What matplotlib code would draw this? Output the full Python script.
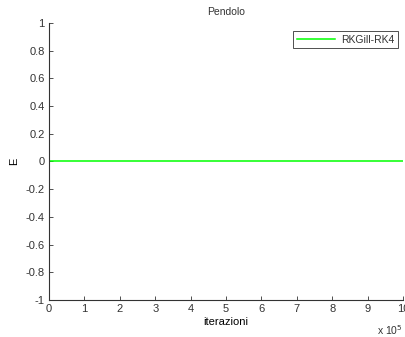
import numpy as np
import matplotlib
matplotlib.use("Agg")
import matplotlib.pyplot as plt

# iterations (in units of 1e5) and energy difference
iterazioni = [0, 2, 4, 6, 8, 10]
E = [0, 0, 0, 0, 0, 0]

plt.rcParams['font.family'] = ['Liberation Sans', 'DejaVu Sans']
plt.rcParams['font.size'] = 8
plt.rcParams['text.color'] = '#333333'

fig = plt.figure(figsize=(4.05, 3.37), dpi=100)
ax = fig.add_axes([0.121, 0.110, 0.874, 0.822])

ax.plot(iterazioni, E, color=(0, 1, 0), lw=1.1, label="RKGill-RK4")

ax.set_xlim(0, 10)
ax.set_ylim(-1, 1)
ax.set_xticks(np.arange(0, 11, 1))
ax.set_yticks(np.round(np.arange(-1, 1.01, 0.2), 1))
ax.set_yticklabels(["-1", "-0.8", "-0.6", "-0.4", "-0.2", "0", "0.2", "0.4", "0.6", "0.8", "1"])
ax.tick_params(direction='in', length=3, width=0.6, colors='#333333', labelcolor='#333333', pad=3,
               labelsize=8)
for side in ['top', 'right']:
    ax.spines[side].set_visible(False)
for side in ['left', 'bottom']:
    ax.spines[side].set_linewidth(0.8)
    ax.spines[side].set_color('#333333')

ax.set_title("Pendolo", fontsize=7.5, pad=6)
ax.set_xlabel("iterazioni", labelpad=2, fontsize=8)
ax.set_ylabel("E", labelpad=5, fontsize=8)
ax.text(0.998, -0.085, r"x 10$^5$", transform=ax.transAxes, ha='right', va='top', fontsize=7.5)

leg = ax.legend(loc='upper right', fancybox=False, framealpha=1, edgecolor='#333333',
                handlelength=3.6, handletextpad=0.6, borderpad=0.35, fontsize=7.5,
                bbox_to_anchor=(1.0, 0.99))
leg.get_frame().set_linewidth(0.6)

fig.savefig("out.png", dpi=100)
